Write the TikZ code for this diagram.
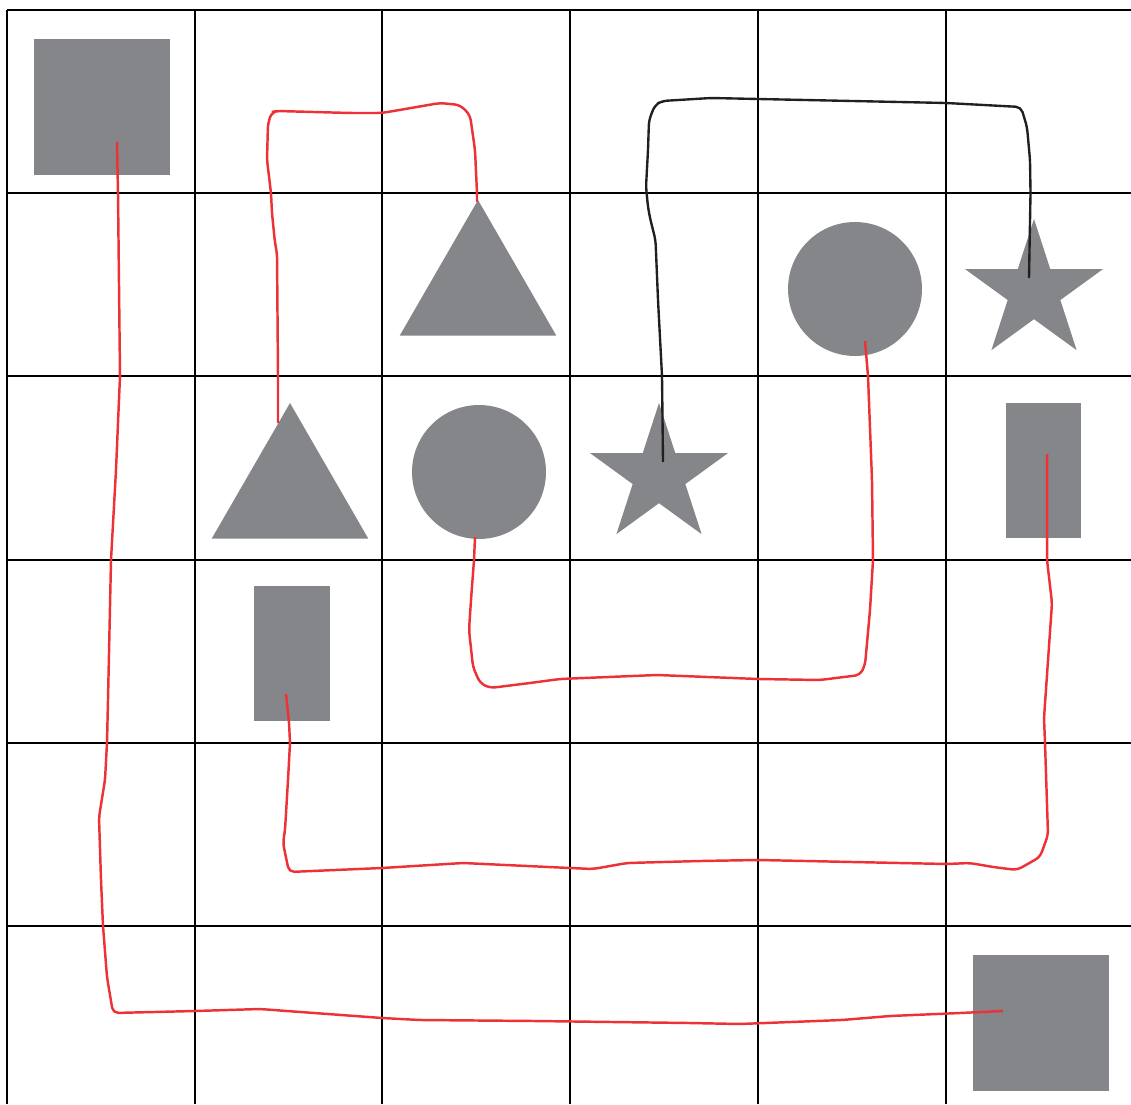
\documentclass[tikz,border=0pt]{standalone}
\usepackage{tikz}
\usetikzlibrary{shapes.geometric}
\usepackage{xcolor}
\definecolor{shapegray}{RGB}{133,134,137}
\definecolor{pathred}{RGB}{237,50,55}
\definecolor{pathblack}{RGB}{35,31,32}
\tikzset{
  cellline/.style={draw=black,line width=1.55pt},
  sqnode/.style={rectangle,fill=shapegray,draw=none,inner sep=0pt,outer sep=0pt,minimum size=2.72cm},
  barnode/.style={rectangle,fill=shapegray,draw=none,inner sep=0pt,outer sep=0pt,minimum width=1.51cm,minimum height=2.7cm},
  discnode/.style={circle,fill=shapegray,draw=none,inner sep=0pt,outer sep=0pt,minimum size=2.68cm},
  trinode/.style={regular polygon,regular polygon sides=3,fill=shapegray,draw=none,inner sep=0pt,outer sep=0pt,minimum size=3.62cm},
  starnode/.style={star,star points=5,star point ratio=2.618,fill=shapegray,draw=none,inner sep=0pt,outer sep=0pt,minimum size=2.9cm},
  redpath/.style={draw=pathred,line width=1.4pt,rounded corners=3pt},
  blackpath/.style={draw=pathblack,line width=1.35pt,rounded corners=3pt}
}

\begin{document}
\begin{tikzpicture}[x=0.02cm,y=-0.02cm]
  \useasboundingbox (0,0) rectangle (1131,1104);
  \foreach \gx in {7,195,382,570,758,946}
    \draw[cellline] (\gx,10) -- (\gx,1104);
  \foreach \gy in {10,193,376,560,743,926}
    \draw[cellline] (7,\gy) -- (1131,\gy);

  \node[sqnode] (sqstart) at (102,107) {};
  \node[sqnode] (sqgoal) at (1041,1022.5) {};
  \node[trinode] (triA) at (478,290.5) {};
  \node[trinode] (triB) at (290,493.5) {};
  \node[discnode] (discA) at (855,289) {};
  \node[discnode] (discB) at (479,472) {};
  \node[starnode] (starA) at (1034,291.5) {};
  \node[starnode] (starB) at (659,475.5) {};
  \node[barnode] (barA) at (1043.5,470.5) {};
  \node[barnode] (barB) at (292,653.5) {};

  \coordinate (sqstartin) at (117,142);
  \coordinate (sqgoalin) at (1003,1011);
  \coordinate (triAtop) at (477,202);
  \coordinate (triBin) at (278,423);
  \coordinate (discAin) at (865,341);
  \coordinate (discBin) at (475,537);
  \coordinate (starAin) at (1029,278);
  \coordinate (starBin) at (663,462);
  \coordinate (barAin) at (1047,454);
  \coordinate (barBin) at (286,694);

  \draw[redpath] (sqstartin) -- (118,193) -- (120,376) -- (116,470) -- (111,560)
    -- (108,700) -- (107,743) -- (105,780) -- (99,817) -- (101,880) -- (103,926)
    -- (107,977) -- (113,1013) -- (195,1011) -- (260,1009) -- (382,1018)
    -- (420,1020) -- (535,1021) -- (690,1023) -- (740,1024) -- (842,1020)
    -- (890,1016) -- (960,1013) -- (sqgoalin);
  \draw[redpath] (triBin) -- (278,376) -- (277,253) -- (275,243) -- (272,213)
    -- (271,193) -- (267,160) -- (268,123) -- (272,112) -- (277,111)
    -- (350,113) -- (382,113) -- (440,103) -- (460,105) -- (470,115)
    -- (475,150) -- (477,193) -- (triAtop);
  \draw[redpath] (discBin) -- (474,560) -- (471,600) -- (469,630) -- (473,667)
    -- (480,683) -- (490,688) -- (530,683) -- (560,679) -- (657,675)
    -- (758,679) -- (820,680) -- (860,675) -- (865,665) -- (870,610)
    -- (873,560) -- (872,480) -- (868,376) -- (discAin);
  \draw[redpath] (barAin) -- (1047,538) -- (1047,560) -- (1052,603)
    -- (1044,718) -- (1045,743) -- (1048,835) -- (1040,857) -- (1017,870)
    -- (993,867) -- (970,863) -- (947,864) -- (758,860) -- (700,861)
    -- (627,863) -- (593,869) -- (570,868) -- (463,863) -- (382,868)
    -- (289,872) -- (283,843) -- (285,830) -- (288,780) -- (290,743)
    -- (289,722) -- (barBin);
  \draw[blackpath] (starBin) -- (662,376) -- (658,300) -- (655.5,240)
    -- (650,218) -- (648,207) -- (646,187) -- (648,150) -- (649,120)
    -- (655,105) -- (662,101) -- (711,98) -- (758,99) -- (946,103)
    -- (1021,107) -- (1027,127) -- (1030,160) -- (1030.5,193) -- (starAin);
\end{tikzpicture}
\end{document}
